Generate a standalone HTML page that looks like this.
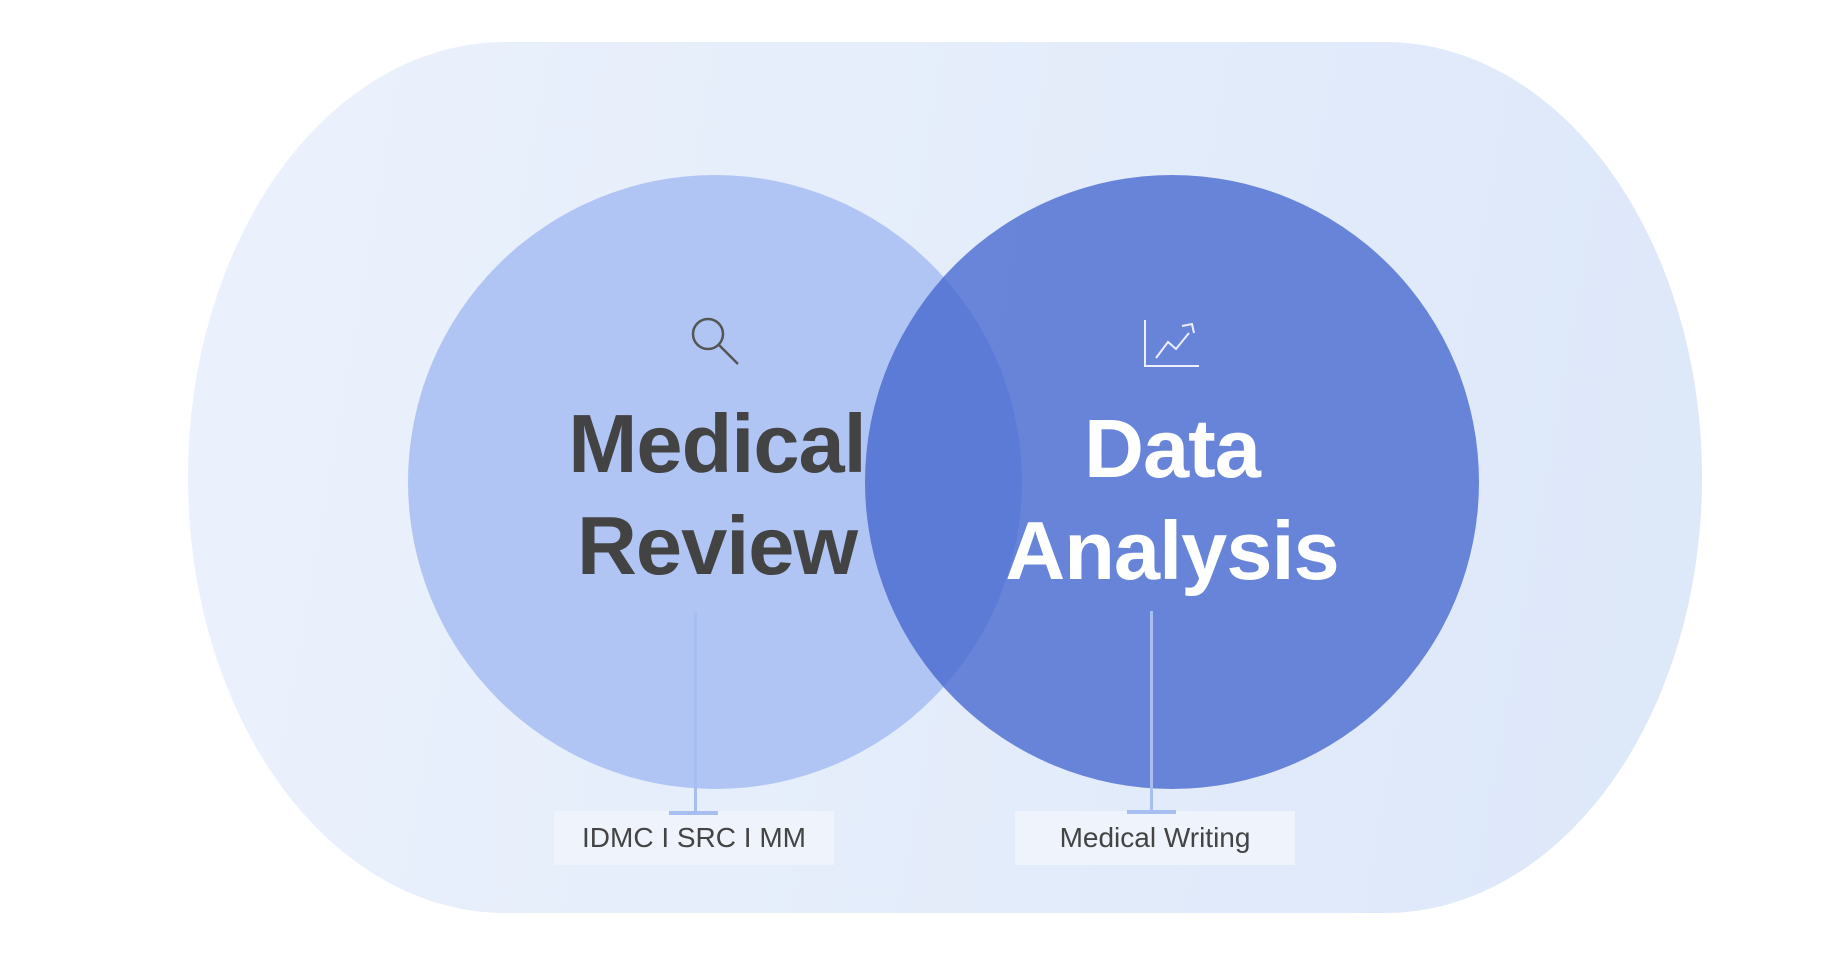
<!DOCTYPE html>
<html><head><meta charset="utf-8"><style>
html,body{margin:0;padding:0;background:#fff;}
body{width:1840px;height:954px;position:relative;overflow:hidden;font-family:"Liberation Sans",sans-serif;}
.stad{position:absolute;left:188px;top:42px;width:1514px;height:871px;border-radius:317px/435px;background:linear-gradient(100deg,#ebf1fc 0%,#e6eefb 40%,#dce7f9 100%);}
.c{position:absolute;width:614px;height:614px;border-radius:50%;}
.c1{left:408px;top:175px;background:#b0c5f3;}
.c2{left:865px;top:175px;background:rgba(63,98,206,0.75);}
.t{position:absolute;font-weight:bold;font-size:83px;line-height:1;text-align:center;width:500px;letter-spacing:-1px;}
.line{position:absolute;width:3px;background:#a7bff0;z-index:2;}
.cap{position:absolute;height:4px;background:#a7bff0;z-index:2;}
.box{position:absolute;top:811px;width:280px;height:54px;background:#eef3fc;color:#444;font-size:28px;line-height:54px;text-align:center;}
</style></head><body>
<div class="stad"></div>
<div class="c c1"></div>
<div class="c c2"></div>
<svg style="position:absolute;left:686px;top:312px" width="56" height="56" viewBox="0 0 56 56"><circle cx="22" cy="22" r="15" fill="none" stroke="#555" stroke-width="2.5"/><line x1="33" y1="33" x2="52" y2="52" stroke="#555" stroke-width="2.5"/></svg>
<svg style="position:absolute;left:1142px;top:318px" width="60" height="52" viewBox="0 0 60 52"><polyline points="3,2 3,48 57,48" fill="none" stroke="#eef" stroke-width="2"/><polyline points="14,40 26,24 34,31 47,15" fill="none" stroke="#eef" stroke-width="2"/><polyline points="40,8 50,6 52,15" fill="none" stroke="#eef" stroke-width="2"/></svg>
<div class="t" style="left:467px;top:402px;color:#434343">Medical</div>
<div class="t" style="left:467px;top:504px;color:#434343">Review</div>
<div class="t" style="left:922px;top:407px;color:#fff">Data</div>
<div class="t" style="left:922px;top:509px;color:#fff">Analysis</div>
<div class="box" style="left:554px">IDMC I SRC I MM</div>
<div class="box" style="left:1015px">Medical Writing</div>
<div class="line" style="left:694px;top:612px;height:200px"></div>
<div class="cap" style="left:669px;top:811px;width:49px"></div>
<div class="line" style="left:1150px;top:611px;height:200px"></div>
<div class="cap" style="left:1127px;top:810px;width:49px"></div>
</body></html>
